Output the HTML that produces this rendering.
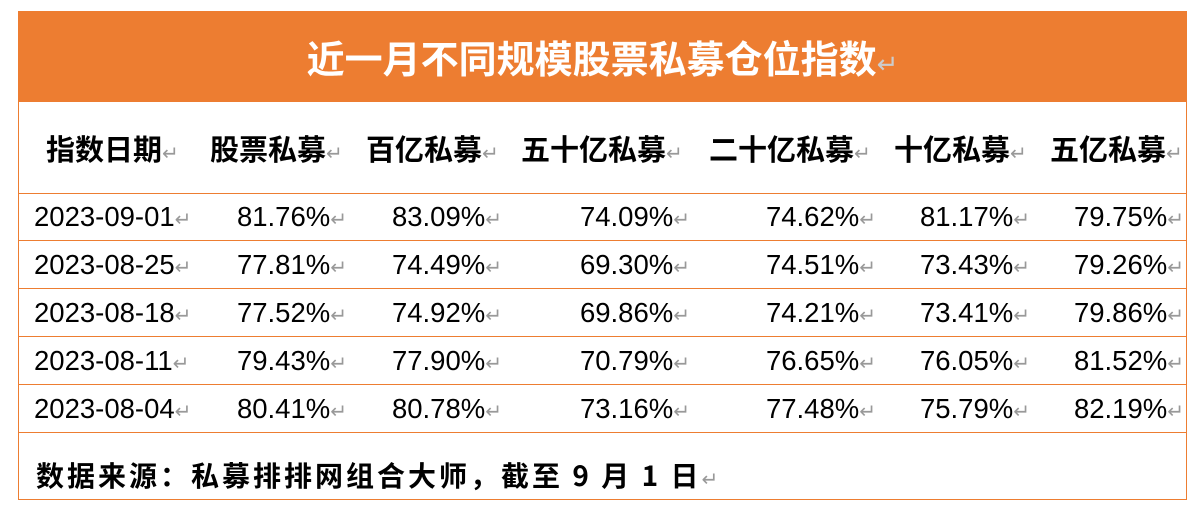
<!DOCTYPE html>
<html><head><meta charset="utf-8"><style>
body{margin:0;width:1203px;height:509px;background:#fff;position:relative;overflow:hidden;font-family:"Liberation Sans","Noto Sans CJK SC",sans-serif;}
.box{position:absolute;left:18px;top:11px;width:1169px;height:489px;border:1px solid #ED7D31;border-top:none;box-sizing:border-box;}
.hdr{position:absolute;left:18px;top:11px;width:1169px;height:91px;background:#ED7D31;color:#fff;font-size:38px;font-weight:bold;text-align:center;line-height:91px;}
.line{position:absolute;left:18px;width:1169px;height:1px;background:#ED7D31;}
.t{position:absolute;white-space:nowrap;color:#000;}
.h{font-size:29px;font-weight:bold;top:128px;font-family:"Noto Sans CJK SC",sans-serif;line-height:40px;}
.d{font-size:27.5px;line-height:30px;}
.a{color:#999;font-size:20px;font-weight:normal;letter-spacing:0;}
.r{text-align:right;}
</style></head><body>
<div class="box"></div>
<div class="hdr"><span style="font-family:'Noto Sans CJK SC',sans-serif">近一月不同规模股票私募仓位指数</span><span class="a" style="color:#ccc;font-size:26px">↵</span></div>
<div class="line" style="top:193px"></div>
<div class="line" style="top:240px"></div>
<div class="line" style="top:288px"></div>
<div class="line" style="top:336px"></div>
<div class="line" style="top:384px"></div>
<div class="line" style="top:432px"></div>

<div class="t h" style="left:46px">指数日期<span class="a">↵</span></div>
<div class="t h" style="left:210px">股票私募<span class="a">↵</span></div>
<div class="t h" style="left:366px">百亿私募<span class="a">↵</span></div>
<div class="t h" style="left:521px">五十亿私募<span class="a">↵</span></div>
<div class="t h" style="left:709px">二十亿私募<span class="a">↵</span></div>
<div class="t h" style="left:894px">十亿私募<span class="a">↵</span></div>
<div class="t h" style="left:1050px">五亿私募<span class="a">↵</span></div>

<div id="rows"></div>
<div class="t" style="left:36px;top:457px;font-size:28px;letter-spacing:3px;font-weight:bold;font-family:'Noto Sans CJK SC',sans-serif;line-height:36px">数据来源：私募排排网组合大师，截至 9 月 1 日<span class="a">↵</span></div>
<script>
var data=[["2023-09-01","81.76%","83.09%","74.09%","74.62%","81.17%","79.75%"],
["2023-08-25","77.81%","74.49%","69.30%","74.51%","73.43%","79.26%"],
["2023-08-18","77.52%","74.92%","69.86%","74.21%","73.41%","79.86%"],
["2023-08-11","79.43%","77.90%","70.79%","76.65%","76.05%","81.52%"],
["2023-08-04","80.41%","80.78%","73.16%","77.48%","75.79%","82.19%"]];
var ends=[333,488,676,862,1016,1170],h="";
data.forEach(function(r,i){var top=202+i*48;
h+='<div class="t d" style="left:34px;top:'+top+'px">'+r[0]+'<span class="a">↵</span></div>';
for(var j=1;j<7;j++){h+='<div class="t d r" style="right:'+(1203-ends[j-1]-14)+'px;top:'+top+'px">'+r[j]+'<span class="a">↵</span></div>';}
});
document.getElementById("rows").innerHTML=h;
</script>
</body></html>
